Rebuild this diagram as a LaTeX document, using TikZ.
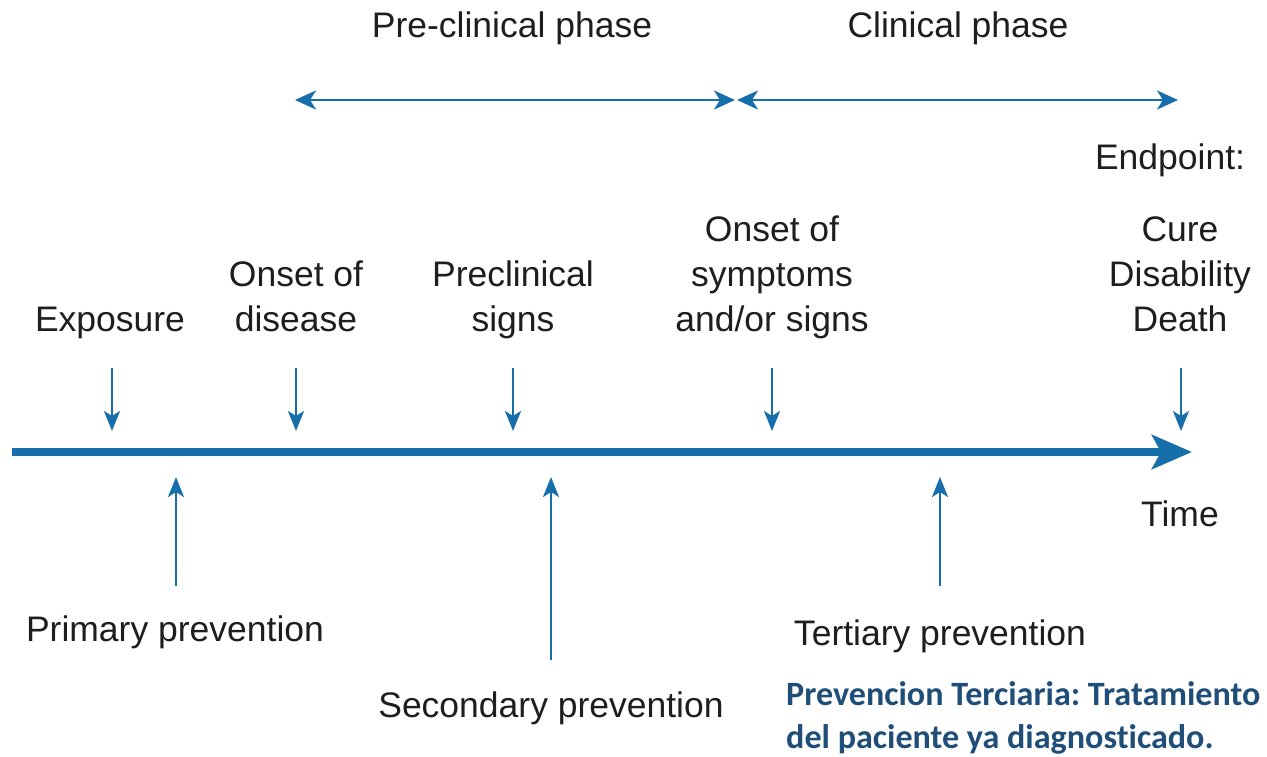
\documentclass[tikz,border=0pt]{standalone}
\usepackage{fontspec}
\setmainfont{Liberation Sans}
\newfontfamily\notefont[Ligatures=NoCommon]{Carlito}
\usetikzlibrary{arrows.meta}
\definecolor{axisblue}{RGB}{22,110,170}
\definecolor{notecol}{RGB}{31,78,121}
\definecolor{labelgray}{RGB}{30,30,30}
\frenchspacing
\begin{document}
\begin{tikzpicture}[x=1pt,y=-1pt,
  lbl/.style={font=\fontsize{35.5}{45}\selectfont, text=labelgray, align=center, inner sep=0pt, anchor=base},
  note/.style={font=\notefont\bfseries\fontsize{34.1}{43}\selectfont, text=notecol, align=left, inner sep=0pt, anchor=base west},
  timeline/.style={draw=axisblue, line width=8pt, -{Stealth[length=40pt,width=34pt,inset=9pt]}},
  phase/.style={draw=axisblue, line width=2.6pt, {Stealth[length=21pt,width=19pt,inset=6pt]}-{Stealth[length=21pt,width=19pt,inset=6pt]}},
  pointer/.style={draw=axisblue, line width=2.4pt, -{Stealth[length=20pt,width=16pt,inset=5pt]}}]
\useasboundingbox (0,0) rectangle (1267,756);

% phase labels
\node[lbl] (pre) at (512,37) {Pre-clinical phase};
\node[lbl] (clin) at (958,37) {Clinical phase};
\coordinate (p1) at (295,100);
\coordinate (p2) at (735,100);
\coordinate (p3) at (737,100);
\coordinate (p4) at (1178,100);
\draw[phase] (p1) -- (p2);
\draw[phase] (p3) -- (p4);

% events along the time axis
\node[lbl] (endpt) at (1170,169) {Endpoint:};
\node[lbl] (exposure) at (110,331) {Exposure};
\node[lbl] (onset) at (296,331) {Onset of\\disease};
\node[lbl] (signs) at (513,331) {Preclinical\\signs};
\node[lbl] (symptoms) at (772,331) {Onset of\\symptoms\\and/or signs};
\node[lbl] (outcome) at (1180,331) {Cure\\Disability\\Death};

% time axis
\coordinate (t0) at (12,452);
\coordinate (t1) at (1192,452);
\draw[timeline] (t0) -- (t1);
\node[lbl] (time) at (1180,526) {Time};

% event pointers
\foreach \x/\n in {112/a,296/b,513/c,772/d,1181/e}{
  \coordinate (d\n1) at (\x,368);
  \coordinate (d\n2) at (\x,431);
  \draw[pointer] (d\n1) -- (d\n2);
}

% prevention levels
\node[lbl] (primary) at (175,641) {Primary prevention};
\node[lbl] (secondary) at (551,717) {Secondary prevention};
\node[lbl] (tertiary) at (940,645) {Tertiary prevention};
\coordinate (u1) at (176,586);
\coordinate (u2) at (551,660);
\coordinate (u3) at (940,586);
\coordinate (v1) at (176,477);
\coordinate (v2) at (551,477);
\coordinate (v3) at (940,477);
\draw[pointer] (u1) -- (v1);
\draw[pointer] (u2) -- (v2);
\draw[pointer] (u3) -- (v3);

% note on tertiary prevention
\node[note] (remark) at (786,748) {Prevencion Terciaria: Tratamiento\\del paciente ya diagnosticado.};
\end{tikzpicture}
\end{document}
